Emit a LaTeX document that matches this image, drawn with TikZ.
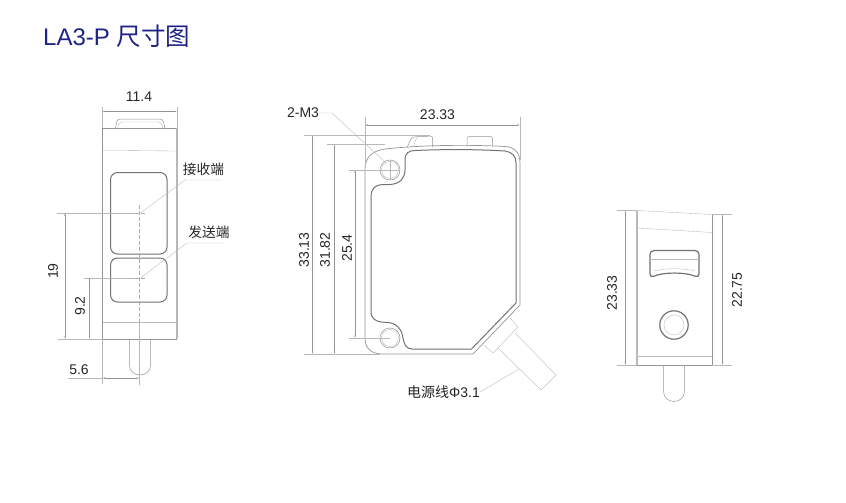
\documentclass[tikz,border=0pt]{standalone}
\usepackage{fontspec}
\setmainfont{Liberation Sans}
\newfontfamily\cjk{Noto Sans CJK SC}
\usetikzlibrary{arrows.meta,positioning}
\definecolor{titleblue}{RGB}{30,35,135}
\begin{document}
\begin{tikzpicture}[x=1pt,y=-1pt]
	\tikzstyle{outline}=[draw=black!42,line width=0.5pt]
	\tikzstyle{gasket}=[draw=black!55,line width=1pt]
	\tikzstyle{heavyside}=[draw=black!28,line width=1.4pt]
	\tikzstyle{thin}=[draw=black!28,line width=0.35pt]
	\tikzstyle{center}=[draw=black!32,line width=0.35pt,dashed,dash pattern=on 4pt off 2pt]
	\tikzstyle{dimline}=[draw=black!42,line width=0.35pt,{Latex[length=2.5pt,width=1.5pt]}-{Latex[length=2.5pt,width=1.5pt]}]
	\tikzstyle{label}=[inner sep=0pt,font=\fontsize{14}{16}\selectfont,text=black!85]
	\tikzstyle{vlabel}=[label,rotate=90]

	\fill[white] (0,0) rectangle (846,503);
	\useasboundingbox (0,0) rectangle (846,503);

	\node[inner sep=0pt,anchor=west,text=titleblue,font=\fontsize{24}{28}\selectfont] (title) at (43,36) {LA3-P {\cjk\fontsize{24.5}{28}\selectfont 尺寸图}};

	% front view
	\draw[outline] (102.5,128) -- (177,128);
	\draw[outline] (102.5,128) -- (102.5,339) -- (177,339);
	\draw[heavyside] (177,128) -- (177,339);
	\draw[thin] (102.5,150.5) -- (119,150.5) -- (177,151);
	\draw[thin] (102.5,322) -- (177,322);
	\draw[outline,rounded corners=3pt] (115.5,129) -- (117,119) -- (163,119) -- (165,129);
	\draw[thin,rounded corners=2pt] (117.5,129) -- (119,122) -- (161,122) -- (163,129);
	\draw[gasket,rounded corners=7pt] (110.5,172.5) rectangle (167,254);
	\draw[gasket,rounded corners=7pt] (110.5,258) rectangle (167,302);
	\draw[outline] (129.5,339) -- (129.5,365) .. controls (129.5,371) and (134,375) .. (140,375) .. controls (146,375) and (150.5,371) .. (150.5,365) -- (150.5,339);
	\draw[center] (139.3,205) -- (139.3,322);
	\draw[thin] (139.3,322) -- (139.3,385);
	\draw[center] (135,278) -- (146,278);
	\draw[center] (135,213) -- (146,213);

	\node[label,font=\fontsize{13.7}{16}\selectfont\cjk] (recv) at (203.5,169) {接收端};
	\node[label,font=\fontsize{13.7}{16}\selectfont\cjk] (send) at (209,232) {发送端};
	\coordinate (recvend) at (222.5,180);
	\coordinate (recvbend) at (185,180);
	\coordinate (recvpt) at (140.5,213);
	\coordinate (sendend) at (224,243);
	\coordinate (sendbend) at (187,243);
	\coordinate (sendpt) at (140.5,278);
	\draw[thin] (recvend) -- (recvbend) -- (recvpt);
	\draw[thin] (sendend) -- (sendbend) -- (sendpt);

	\node[label] (w) at (139,97) {11.4};
	\draw[thin] (102.5,107) -- (102.5,128);
	\draw[thin] (177,107) -- (177,128);
	\draw[dimline] (102.5,111.5) -- (177,111.5);

	\draw[thin] (57,213) -- (135,213);
	\draw[thin] (58,339) -- (102.5,339);
	\draw[dimline] (65,213) -- (65,339);
	\node[vlabel] (h) at (53,271) {19};
	\draw[thin] (84,278) -- (135,278);
	\draw[dimline] (89.5,278) -- (89.5,339);
	\node[vlabel] (hs) at (80,306) {9.2};
	\draw[thin] (102.5,339) -- (102.5,384);
	\draw[thin] (68,378) -- (102.5,378);
	\draw[dimline] (102.5,378) -- (139.3,378);
	\node[label] (off) at (79,370) {5.6};

	% side view
	\draw[outline,line width=0.7pt] (473,354) -- (520,305) -- (520,163) .. controls (520,152) and (514,147) .. (505,146.5) .. controls (470,144.5) and (420,145) .. (385,149) .. controls (372,151) and (365,157) .. (365,170) -- (365,338) .. controls (365,348) and (371,354) .. (382,354) -- (473,354);
	\draw[gasket] (371,312) -- (371,197) .. controls (371,189) and (375,185) .. (382,184.5) -- (390,184.5) .. controls (400,184) and (405,178) .. (405,170) -- (405,160) .. controls (405,153) and (409,150.5) .. (415,150.5) .. controls (450,149) and (480,149.5) .. (505,151) .. controls (512,152) and (516,156) .. (516,163) -- (516,303) -- (471.5,349) -- (412,349) .. controls (406,349) and (404,344) .. (403,338) .. controls (402,329) and (396,323) .. (388,322.5) -- (381,322) .. controls (375,321) and (371,318) .. (371,312);
	\draw[outline] (390,170) circle (10pt);
	\draw[thin] (390,170) circle (8.5pt);
	\draw[outline] (390,338) circle (10pt);
	\draw[thin] (390,338) circle (8.5pt);
	\draw[outline,rounded corners=2pt] (407,147.5) -- (412,137) -- (432.5,136) -- (432.5,147);
	\draw[thin] (417,137) -- (413,147);
	\draw[outline,rounded corners=2pt] (467,146.5) -- (467,136.5) -- (492.5,136.5) -- (492.5,146);
	\draw[thin] (510,318) -- (518,327) -- (493,353) -- (484,345);
	\draw[thin] (515,333) -- (556,375) -- (541,390) -- (498,348);

	\node[label] (pitch) at (303,113) {2-M3};
	\coordinate (pitchbend) at (332,113);
	\coordinate (hole) at (385,162);
	\draw[thin] (pitch.east) -- (pitchbend) -- (hole);
	\node[label] (wire) at (443.5,392) {{\cjk 电源线}Φ3.1};
	\coordinate (wirept) at (519,369);
	\draw[thin] (wire.east) -- (wirept);

	\node[label] (l) at (437.5,115) {23.33};
	\draw[thin] (365,117) -- (365,165);
	\draw[thin] (520,117) -- (520,160);
	\draw[dimline] (365,125) -- (520,125);

	\draw[thin] (304,135.5) -- (430,135.5);
	\draw[thin] (304,354) -- (380,354);
	\draw[dimline] (312.5,135.5) -- (312.5,354);
	\node[vlabel] (ha) at (304,250) {33.13};
	\draw[thin] (327,144.5) -- (385,144.5);
	\draw[dimline] (334.5,144.5) -- (334.5,354);
	\node[vlabel] (hb) at (325,250) {31.82};
	\draw[thin] (349,170) -- (400,170);
	\draw[thin] (349,338) -- (390,338);
	\draw[thin] (390,160) -- (390,180);
	\draw[dimline] (355,170) -- (355,338);
	\node[vlabel] (hc) at (347,248) {25.4};

	% rear view
	\draw[heavyside] (637,210.5) -- (637,365);
	\draw[outline] (637,365) -- (712,365) -- (712,214.5);
	\draw[thin] (637,210.5) -- (712,214.5);
	\draw[thin] (637,228) -- (712,232.5);
	\draw[thin] (637,356) -- (712,356);
	\draw[gasket,line width=1.2pt,rounded corners=4pt] (650,250.5) -- (699,250.5) -- (699,278) .. controls (686,272) and (663,272) .. (650,278) -- cycle;
	\draw[thin] (650,259.5) -- (699,259.5);
	\draw[thin] (654,271) .. controls (665,268) and (684,268) .. (695,271);
	\draw[gasket,line width=1.2pt] (674,325) circle (14.2pt);
	\draw[thin] (674,325) circle (10pt);
	\draw[outline] (663.5,365) -- (663.5,391) .. controls (663.5,397) and (668,401.5) .. (674,401.5) .. controls (680,401.5) and (684.5,397) .. (684.5,391) -- (684.5,365);

	\draw[thin] (617,210.5) -- (637,210.5);
	\draw[thin] (617,365) -- (637,365);
	\draw[dimline] (625.5,210.5) -- (625.5,365);
	\node[vlabel] (r) at (612,293) {23.33};
	\draw[thin] (712,214.5) -- (732,214.5);
	\draw[thin] (712,365) -- (732,365);
	\draw[dimline] (722.5,214.5) -- (722.5,365);
	\node[vlabel] (rs) at (737,290) {22.75};
\end{tikzpicture}
\end{document}
